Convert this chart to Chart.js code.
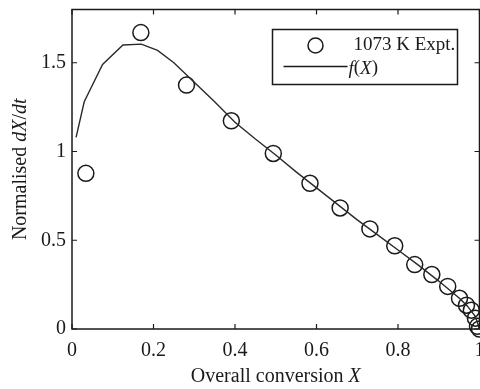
<!DOCTYPE html>
<html>
<head>
<meta charset="utf-8">
<script src="https://cdn.jsdelivr.net/npm/chart.js@4.4.1/dist/chart.umd.min.js"></script>
<style>
  html, body { margin: 0; padding: 0; background: #fff; overflow: hidden; }
  #wrap { width: 489px; height: 389px; }
</style>
</head>
<body>
<div id="wrap"><canvas id="rateChart"></canvas></div>
<script>
// Experimental points at 1073 K
const exptX = [0.034, 0.169, 0.281, 0.391, 0.494, 0.584, 0.658, 0.731, 0.792, 0.841, 0.883, 0.922, 0.951, 0.968, 0.980, 0.990, 0.995, 1.0];
const exptY = [0.877, 1.670, 1.374, 1.173, 0.989, 0.821, 0.682, 0.564, 0.469, 0.363, 0.307, 0.240, 0.173, 0.134, 0.106, 0.061, 0.015, 0.0];

// Model curve f(X)
const fitX = [0.01, 0.03, 0.075, 0.125, 0.17, 0.21, 0.25, 0.30, 0.35, 0.40, 0.45, 0.50, 0.55, 0.60, 0.65, 0.70, 0.75, 0.80, 0.85, 0.90, 0.95, 0.97, 0.99, 1.0];
const fitY = [1.08, 1.28, 1.49, 1.60, 1.605, 1.57, 1.50, 1.39, 1.28, 1.165, 1.07, 0.98, 0.885, 0.795, 0.705, 0.615, 0.53, 0.445, 0.36, 0.27, 0.175, 0.13, 0.07, 0.0];

const xTicks = [0, 0.2, 0.4, 0.6, 0.8, 1];
const yTicks = [0, 0.5, 1, 1.5];

const SERIF = '"Liberation Serif", "Times New Roman", serif';
const INK = '#1a1a1a';

function pts(xs, ys) {
  return xs.map((x, i) => ({ x: x, y: ys[i] }));
}

// draw a run of [text, italic] pieces starting at x
function drawRuns(ctx, runs, x, y, size) {
  runs.forEach(([t, it]) => {
    ctx.font = (it ? 'italic ' : '') + size + 'px ' + SERIF;
    ctx.fillText(t, x, y);
    x += ctx.measureText(t).width;
  });
}
function runsWidth(ctx, runs, size) {
  let w = 0;
  runs.forEach(([t, it]) => {
    ctx.font = (it ? 'italic ' : '') + size + 'px ' + SERIF;
    w += ctx.measureText(t).width;
  });
  return w;
}

// frame, inward ticks on all four sides, axis titles and legend
const framePlugin = {
  id: 'frame',
  afterDraw(chart) {
    const { ctx, chartArea: a, scales } = chart;
    ctx.save();
    ctx.strokeStyle = INK;
    ctx.lineWidth = 1.5;
    ctx.strokeRect(a.left, a.top, a.right - a.left, a.bottom - a.top);

    ctx.lineWidth = 1.2;
    ctx.beginPath();
    xTicks.forEach(v => {
      const px = scales.x.getPixelForValue(v);
      ctx.moveTo(px, a.bottom); ctx.lineTo(px, a.bottom - 5);
      ctx.moveTo(px, a.top); ctx.lineTo(px, a.top + 5);
    });
    yTicks.forEach(v => {
      const py = scales.y.getPixelForValue(v);
      ctx.moveTo(a.left, py); ctx.lineTo(a.left + 5, py);
      ctx.moveTo(a.right, py); ctx.lineTo(a.right - 5, py);
    });
    ctx.stroke();

    ctx.fillStyle = INK;
    ctx.textBaseline = 'middle';
    ctx.textAlign = 'left';

    // x title
    const xt = [['Overall conversion ', false], ['X', true]];
    const xw = runsWidth(ctx, xt, 20);
    drawRuns(ctx, xt, (a.left + a.right) / 2 - xw / 2, a.bottom + 48, 20);

    // y title
    const yt = [['Normalised ', false], ['dX', true], ['/', false], ['dt', true]];
    const yw = runsWidth(ctx, yt, 20);
    ctx.save();
    ctx.translate(21, (a.top + a.bottom) / 2);
    ctx.rotate(-Math.PI / 2);
    drawRuns(ctx, yt, -yw / 2, 0, 20);
    ctx.restore();

    // legend
    const lx = a.right - 207, ly = a.top + 20;
    ctx.lineWidth = 1.5;
    ctx.strokeRect(lx, ly, 185, 55);
    ctx.beginPath();
    ctx.arc(lx + 43, ly + 16, 7.5, 0, Math.PI * 2);
    ctx.stroke();
    drawRuns(ctx, [[chart.data.datasets[1].label, false]], lx + 81, ly + 16, 19);
    ctx.beginPath();
    ctx.moveTo(lx + 11, ly + 37); ctx.lineTo(lx + 75, ly + 37);
    ctx.stroke();
    drawRuns(ctx, [['f', true], ['(', false], ['X', true], [')', false]], lx + 76, ly + 39, 19);
    ctx.restore();
  }
};

new Chart(document.getElementById('rateChart'), {
  type: 'scatter',
  data: {
    datasets: [
      {
        label: 'f(X)',
        data: pts(fitX, fitY),
        showLine: true,
        borderColor: '#2a2a2a',
        borderWidth: 1.4,
        pointRadius: 0,
        tension: 0
      },
      {
        label: '1073 K Expt.',
        data: pts(exptX, exptY),
        showLine: false,
        pointRadius: 8,
        pointBorderWidth: 1.5,
        pointBorderColor: '#1a1a1a',
        pointBackgroundColor: 'rgba(0,0,0,0)'
      }
    ]
  },
  options: {
    responsive: true,
    maintainAspectRatio: false,
    animation: false,
    clip: false,
    layout: { padding: { top: 5, right: 1, bottom: 0, left: 0 } },
    plugins: { legend: { display: false }, tooltip: { enabled: false } },
    scales: {
      x: {
        type: 'linear',
        min: 0,
        max: 1,
        grid: { display: false, drawTicks: false },
        border: { display: false },
        afterBuildTicks: s => { s.ticks = xTicks.map(v => ({ value: v })); },
        afterFit: s => { s.height = 60; s.paddingLeft = 0; s.paddingRight = 0; },
        ticks: {
          padding: 10,
          color: INK,
          font: { family: SERIF, size: 20 },
          callback: v => String(+v.toFixed(1))
        }
      },
      y: {
        type: 'linear',
        min: 0,
        max: 1.8,
        grid: { display: false, drawTicks: false },
        border: { display: false },
        afterBuildTicks: s => { s.ticks = yTicks.map(v => ({ value: v })); },
        afterFit: s => { s.width = 72; s.paddingTop = 0; s.paddingBottom = 0; },
        ticks: {
          padding: 6,
          color: INK,
          font: { family: SERIF, size: 20 },
          callback: v => String(+v.toFixed(1))
        }
      }
    }
  },
  plugins: [framePlugin]
});
</script>
</body>
</html>
